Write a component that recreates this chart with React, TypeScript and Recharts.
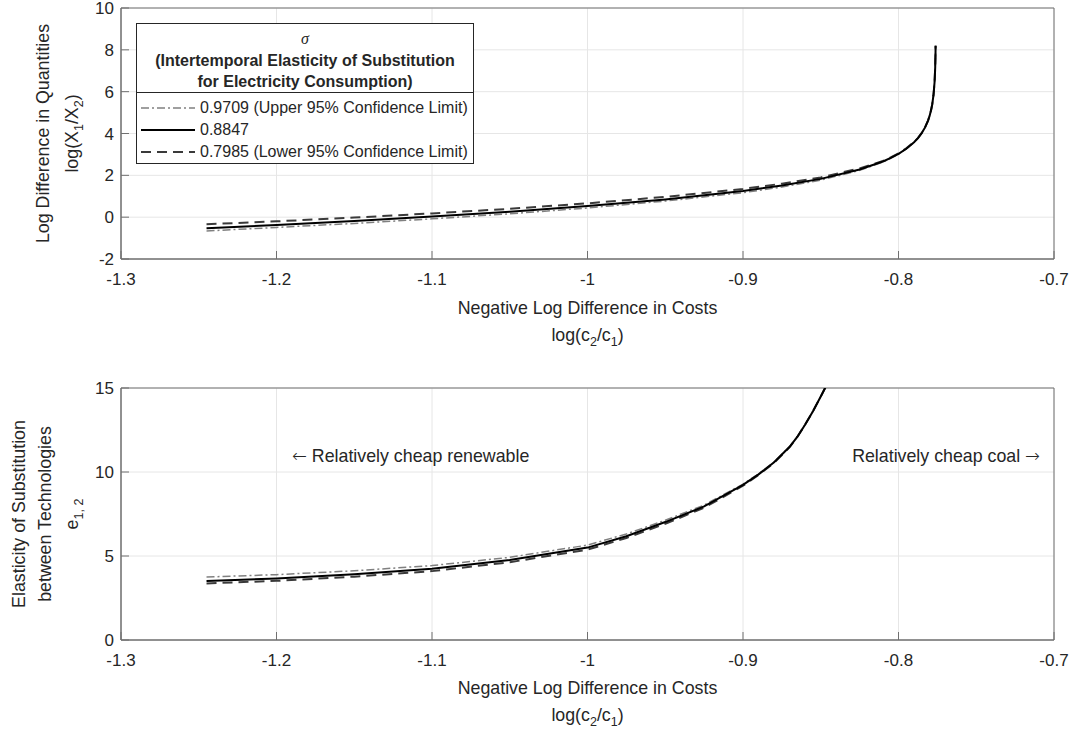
import React from 'react';
import { LineChart, Line, XAxis, YAxis, CartesianGrid, ReferenceArea } from 'recharts';

// ---------- data ----------
const xTicks = [-1.3, -1.2, -1.1, -1.0, -0.9, -0.8, -0.7];
const xTickLabels = ['-1.3', '-1.2', '-1.1', '-1', '-0.9', '-0.8', '-0.7'];
const topYTicks = [-2, 0, 2, 4, 6, 8, 10];
const topYTickLabels = ['-2', '0', '2', '4', '6', '8', '10'];
const bottomYTicks = [0, 5, 10, 15];
const bottomYTickLabels = ['0', '5', '10', '15'];

// top panel: log(X1/X2) vs log(c2/c1)
const topX = [-1.245, -1.2, -1.15, -1.1, -1.05, -1.0, -0.95, -0.9, -0.875, -0.85, -0.825, -0.81, -0.805, -0.8, -0.795, -0.79, -0.7875, -0.785, -0.783, -0.781, -0.78, -0.779, -0.7783, -0.7775, -0.7768, -0.7764, -0.7762, -0.77614];
const topUpper = [-0.66, -0.49, -0.3, -0.08, 0.16, 0.44, 0.77, 1.17, 1.44, 1.77, 2.24, 2.63, 2.81, 3.01, 3.26, 3.57, 3.78, 4.03, 4.28, 4.62, 4.84, 5.13, 5.4, 5.83, 6.46, 7.15, 7.84, 8.2];
const topMid = [-0.53, -0.37, -0.18, 0.03, 0.26, 0.53, 0.85, 1.25, 1.51, 1.83, 2.28, 2.66, 2.83, 3.03, 3.27, 3.58, 3.78, 4.03, 4.28, 4.62, 4.84, 5.13, 5.4, 5.83, 6.46, 7.15, 7.84, 8.2];
const topLower = [-0.34, -0.2, -0.02, 0.18, 0.4, 0.66, 0.97, 1.35, 1.6, 1.9, 2.33, 2.69, 2.86, 3.05, 3.29, 3.59, 3.78, 4.03, 4.28, 4.62, 4.84, 5.13, 5.4, 5.83, 6.46, 7.15, 7.84, 8.2];

// bottom panel: e_{1,2} vs log(c2/c1)
const bottomX = [-1.245, -1.2, -1.15, -1.1, -1.05, -1.0, -0.975, -0.95, -0.925, -0.9, -0.89, -0.88, -0.87, -0.865, -0.86, -0.855, -0.85, -0.845, -0.84, -0.835, -0.83];
const bottomUpper = [3.75, 3.89, 4.12, 4.43, 4.92, 5.65, 6.31, 7.13, 8.03, 9.28, 9.89, 10.6, 11.52, 12.1, 12.83, 13.62, 14.49, 15.4, 16.4, 17.5, 18.7];
const bottomMid = [3.51, 3.66, 3.91, 4.24, 4.76, 5.5, 6.18, 7.02, 7.95, 9.23, 9.86, 10.58, 11.5, 12.1, 12.83, 13.62, 14.49, 15.4, 16.4, 17.5, 18.7];
const bottomLower = [3.37, 3.52, 3.77, 4.1, 4.63, 5.38, 6.07, 6.92, 7.87, 9.18, 9.82, 10.55, 11.48, 12.1, 12.83, 13.62, 14.49, 15.4, 16.4, 17.5, 18.7];

const legendTitle = ['σ', '(Intertemporal Elasticity of Substitution', 'for Electricity Consumption)'];
const legendLabels = ['0.9709 (Upper 95% Confidence Limit)', '0.8847', '0.7985 (Lower 95% Confidence Limit)'];

const topData = topX.map((x, i) => ({ x, upper: topUpper[i], mid: topMid[i], lower: topLower[i] }));
const bottomData = bottomX.map((x, i) => ({ x, upper: bottomUpper[i], mid: bottomMid[i], lower: bottomLower[i] }));

// ---------- style ----------
const FONT = '"Liberation Sans", Arial, Helvetica, sans-serif';
const ARROW_FONT = '"DejaVu Sans", sans-serif';
const TXT = '#262626';
const AX = '#707070';
const GRID = '#e6e6e6';
const TICK_FS = 17;
const LABEL_FS = 17.8;

const S_UPPER = { stroke: '#808080', strokeWidth: 1.5, strokeDasharray: '8 3 2 3' };
const S_MID = { stroke: '#000000', strokeWidth: 2 };
const S_LOWER = { stroke: '#3a3a3a', strokeWidth: 2, strokeDasharray: '10 6' };

const fmtIdx = (arr: number[], v: number) => arr.findIndex((t) => Math.abs(t - v) < 1e-9);

const XTick = (props: any) => {
  const { x, y, payload } = props;
  const i = fmtIdx(xTicks, payload.value);
  return (
    <g>
      <line x1={x} y1={y} x2={x} y2={y - 8} stroke={AX} strokeWidth={1} />
      <text x={x} y={y + 26} textAnchor="middle" fontSize={TICK_FS} fill={TXT} fontFamily={FONT}>
        {xTickLabels[i]}
      </text>
    </g>
  );
};

const makeYTick = (ticks: number[], labels: string[]) => (props: any) => {
  const { x, y, payload } = props;
  const i = fmtIdx(ticks, payload.value);
  return (
    <g>
      <line x1={x} y1={y} x2={x + 8} y2={y} stroke={AX} strokeWidth={1} />
      <text x={x - 7} y={y + 6} textAnchor="end" fontSize={TICK_FS} fill={TXT} fontFamily={FONT}>
        {labels[i]}
      </text>
    </g>
  );
};

const TopYTick = makeYTick(topYTicks, topYTickLabels);
const BottomYTick = makeYTick(bottomYTicks, bottomYTickLabels);

const Panel = ({ data, height, marginTop, marginBottom, yDomain, yTicks, YTickComp }: any) => (
  <LineChart
    width={1075}
    height={height}
    data={data}
    margin={{ top: marginTop, right: 21, left: 61, bottom: marginBottom }}
  >
    <CartesianGrid stroke={GRID} strokeWidth={1} />
    <XAxis
      dataKey="x"
      type="number"
      domain={[-1.3, -0.7]}
      ticks={xTicks}
      allowDataOverflow
      height={30}
      tickSize={0}
      tickMargin={0}
      tickLine={false}
      axisLine={{ stroke: AX, strokeWidth: 1 }}
      tick={XTick}
      interval={0}
    />
    <YAxis
      type="number"
      domain={yDomain}
      ticks={yTicks}
      allowDataOverflow
      width={60}
      tickSize={0}
      tickMargin={0}
      tickLine={false}
      axisLine={{ stroke: AX, strokeWidth: 1 }}
      tick={YTickComp}
      interval={0}
    />
    <ReferenceArea
      x1={-1.3}
      x2={-0.7}
      y1={yDomain[0]}
      y2={yDomain[1]}
      fill="none"
      fillOpacity={0}
      stroke={AX}
      strokeWidth={1}
    />
    <Line type="linear" dataKey="upper" dot={false} activeDot={false} isAnimationActive={false} {...S_UPPER} />
    <Line type="linear" dataKey="lower" dot={false} activeDot={false} isAnimationActive={false} {...S_LOWER} />
    <Line type="linear" dataKey="mid" dot={false} activeDot={false} isAnimationActive={false} {...S_MID} />
  </LineChart>
);

const Overlay = () => (
  <svg
    width={1075}
    height={733}
    style={{ position: 'absolute', left: 0, top: 0, pointerEvents: 'none' }}
    fontFamily={FONT}
    fill={TXT}
  >
    {/* top x label */}
    <text x={587.5} y={314} textAnchor="middle" fontSize={LABEL_FS}>Negative Log Difference in Costs</text>
    <text x={587.5} y={341} textAnchor="middle" fontSize={LABEL_FS}>
      log(c<tspan dy={5} fontSize={12.5}>2</tspan><tspan dy={-5}>/c</tspan><tspan dy={5} fontSize={12.5}>1</tspan><tspan dy={-5}>)</tspan>
    </text>
    {/* bottom x label */}
    <text x={587.5} y={694} textAnchor="middle" fontSize={LABEL_FS}>Negative Log Difference in Costs</text>
    <text x={587.5} y={721} textAnchor="middle" fontSize={LABEL_FS}>
      log(c<tspan dy={5} fontSize={12.5}>2</tspan><tspan dy={-5}>/c</tspan><tspan dy={5} fontSize={12.5}>1</tspan><tspan dy={-5}>)</tspan>
    </text>
    {/* top y label */}
    <text transform="translate(49,133.5) rotate(-90)" textAnchor="middle" fontSize={LABEL_FS}>Log Difference in Quantities</text>
    <text transform="translate(78,133.5) rotate(-90)" textAnchor="middle" fontSize={LABEL_FS}>
      log(X<tspan dy={5} fontSize={12.5}>1</tspan><tspan dy={-5}>/X</tspan><tspan dy={5} fontSize={12.5}>2</tspan><tspan dy={-5}>)</tspan>
    </text>
    {/* bottom y label */}
    <text transform="translate(25,514) rotate(-90)" textAnchor="middle" fontSize={LABEL_FS}>Elasticity of Substitution</text>
    <text transform="translate(51,514) rotate(-90)" textAnchor="middle" fontSize={LABEL_FS}>between Technologies</text>
    <text transform="translate(78,514) rotate(-90)" textAnchor="middle" fontSize={LABEL_FS}>
      e<tspan dy={5} fontSize={12.5}>1, 2</tspan>
    </text>
    {/* annotations */}
    <text x={292} y={462} fontSize={17.8}>
      <tspan fontFamily={ARROW_FONT} fontWeight={300}>←</tspan> Relatively cheap renewable
    </text>
    <text x={1040} y={462} textAnchor="end" fontSize={17.8}>
      Relatively cheap coal <tspan fontFamily={ARROW_FONT} fontWeight={300}>→</tspan>
    </text>
  </svg>
);

const LegendSample = ({ s }: any) => (
  <svg width={54} height={10} style={{ position: 'absolute', left: 4, top: 4 }}>
    <line x1={0} y1={5} x2={54} y2={5} stroke={s.stroke} strokeWidth={s.strokeWidth} strokeDasharray={s.strokeDasharray} />
  </svg>
);

const LegendBox = () => {
  const styles = [S_UPPER, S_MID, S_LOWER];
  const itemTops = [75, 97, 119];
  return (
    <div
      style={{
        position: 'absolute',
        left: 136,
        top: 23,
        width: 338,
        height: 141,
        boxSizing: 'border-box',
        border: `1px solid ${TXT}`,
        background: '#fff',
        fontFamily: FONT,
        color: TXT,
        fontSize: 16,
      }}
    >
      <div style={{ position: 'absolute', left: 0, width: '100%', top: 6, lineHeight: '18px', textAlign: 'center', fontFamily: '"Liberation Serif", "DejaVu Serif", serif', fontStyle: 'italic' }}>
        {legendTitle[0]}
      </div>
      <div style={{ position: 'absolute', left: 0, width: '100%', top: 28, lineHeight: '18px', textAlign: 'center', fontWeight: 'bold' }}>
        {legendTitle[1]}
      </div>
      <div style={{ position: 'absolute', left: 0, width: '100%', top: 49, lineHeight: '18px', textAlign: 'center', fontWeight: 'bold' }}>
        {legendTitle[2]}
      </div>
      <div style={{ position: 'absolute', left: 0, width: '100%', top: 68, height: 1, background: TXT }} />
      {legendLabels.map((lab, i) => (
        <div key={lab} style={{ position: 'absolute', left: 0, top: itemTops[i], width: '100%', height: 18 }}>
          <LegendSample s={styles[i]} />
          <span style={{ position: 'absolute', left: 63, top: 0, lineHeight: '18px', whiteSpace: 'nowrap' }}>{lab}</span>
        </div>
      ))}
    </div>
  );
};

export default function App() {
  return (
    <div style={{ position: 'absolute', left: 0, top: 0, width: 1075, height: 733, background: '#fff', overflow: 'hidden' }}>
      <div style={{ position: 'absolute', left: 0, top: 0 }}>
        <Panel data={topData} height={367} marginTop={8} marginBottom={78} yDomain={[-2, 10]} yTicks={topYTicks} YTickComp={TopYTick} />
      </div>
      <div style={{ position: 'absolute', left: 0, top: 367 }}>
        <Panel data={bottomData} height={366} marginTop={21} marginBottom={63} yDomain={[0, 15]} yTicks={bottomYTicks} YTickComp={BottomYTick} />
      </div>
      <Overlay />
      <LegendBox />
    </div>
  );
}
